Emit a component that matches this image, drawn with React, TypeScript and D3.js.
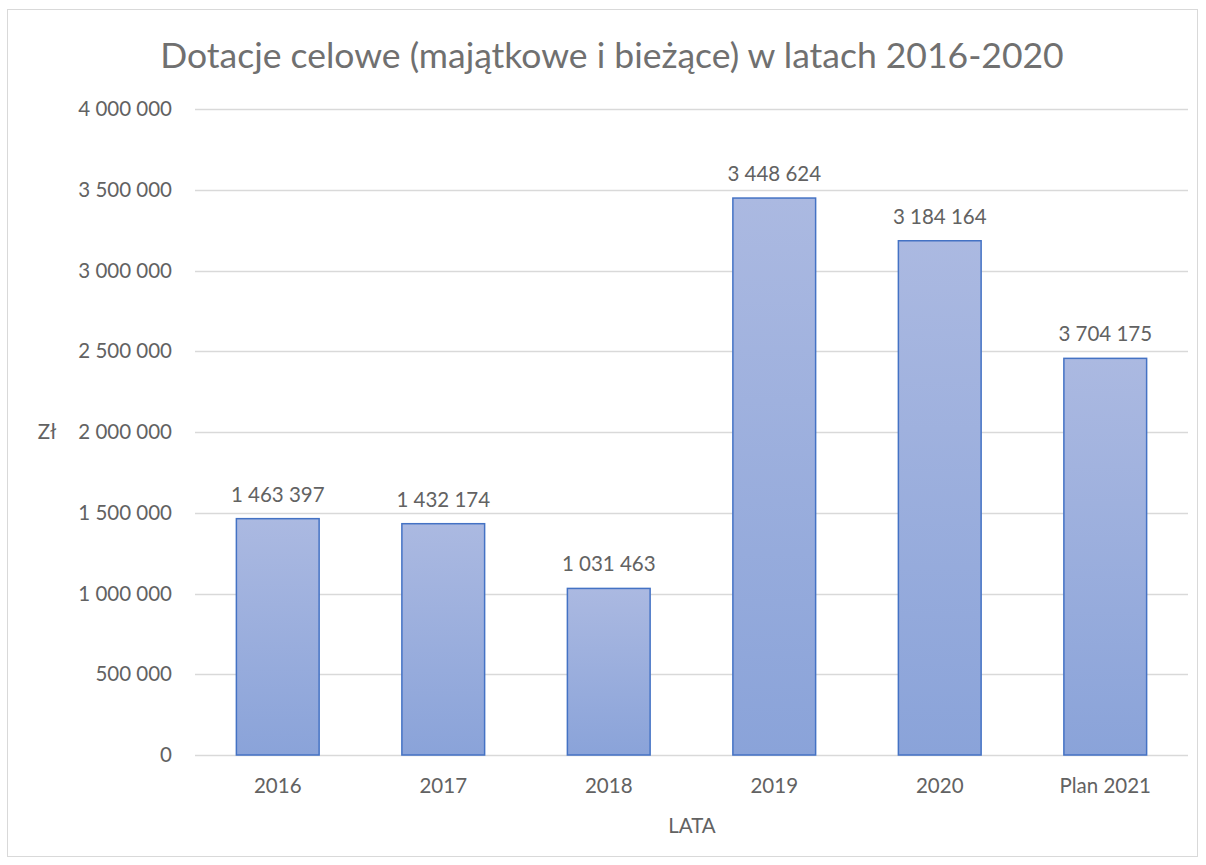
import React from 'react';
import * as d3 from 'd3';

// chart data
const categories = ['2016', '2017', '2018', '2019', '2020', 'Plan 2021'];
const values = [1463397, 1432174, 1031463, 3448624, 3184164, 2456000];
const valueLabels = ['1 463 397', '1 432 174', '1 031 463', '3 448 624', '3 184 164', '3 704 175'];
const yTicks = [0, 500000, 1000000, 1500000, 2000000, 2500000, 3000000, 3500000, 4000000];

const W = 1206;
const H = 865;
const FONT = 'Lato, "Open Sans", sans-serif';
const TEXT = '#626262';

const fmt = (v: number) => d3.format(',')(v).replace(/,/g, ' ');

export default function App() {
  const left = 195;
  const right = 1188;
  const top = 109;
  const bottom = 755;

  const x = d3.scaleBand().domain(categories).range([left, right]).paddingInner(0.5).paddingOuter(0.25);
  const y = d3.scaleLinear().domain([0, 4000000]).range([bottom, top]);

  return (
    <svg width={W} height={H} style={{ position: 'absolute', left: 0, top: 0 }}>
      <defs>
        <linearGradient id="barGrad" x1="0" y1="0" x2="0" y2="1">
          <stop offset="0%" stopColor="#abb9e1" />
          <stop offset="100%" stopColor="#8aa3d9" />
        </linearGradient>
      </defs>
      <rect x={0} y={0} width={W} height={H} fill="#fff" />
      <rect x={7.5} y={9.5} width={1190} height={847} fill="none" stroke="#d9d9d9" strokeWidth={1} />

      <text x={612} y={68} textAnchor="middle" fontFamily={FONT} fontSize={35.5} fill="#707070">
        Dotacje celowe (majątkowe i bieżące) w latach 2016-2020
      </text>

      {yTicks.map((t) => (
        <g key={t}>
          <line x1={left} x2={right} y1={Math.round(y(t)) + 0.5} y2={Math.round(y(t)) + 0.5} stroke="#d9d9d9" strokeWidth={1.5} />
          <text x={172} y={y(t) + 7} textAnchor="end" fontFamily={FONT} fontSize={20.5} fill={TEXT}>
            {fmt(t)}
          </text>
        </g>
      ))}

      {categories.map((c, i) => (
        <g key={c}>
          <rect
            x={x(c)!}
            y={y(values[i])}
            width={x.bandwidth()}
            height={bottom - y(values[i])}
            fill="url(#barGrad)"
            stroke="#4472c4"
            strokeWidth={1.5}
          />
          <text x={x(c)! + x.bandwidth() / 2} y={y(values[i]) - 17} textAnchor="middle" fontFamily={FONT} fontSize={20.5} fill={TEXT}>
            {valueLabels[i]}
          </text>
          <text x={x(c)! + x.bandwidth() / 2} y={793} textAnchor="middle" fontFamily={FONT} fontSize={20.5} fill={TEXT}>
            {c}
          </text>
        </g>
      ))}

      <text x={47} y={439} textAnchor="middle" fontFamily={FONT} fontSize={20.5} fill={TEXT}>Zł</text>
      <text x={692} y={833} textAnchor="middle" fontFamily={FONT} fontSize={20.5} fill={TEXT}>LATA</text>
    </svg>
  );
}
